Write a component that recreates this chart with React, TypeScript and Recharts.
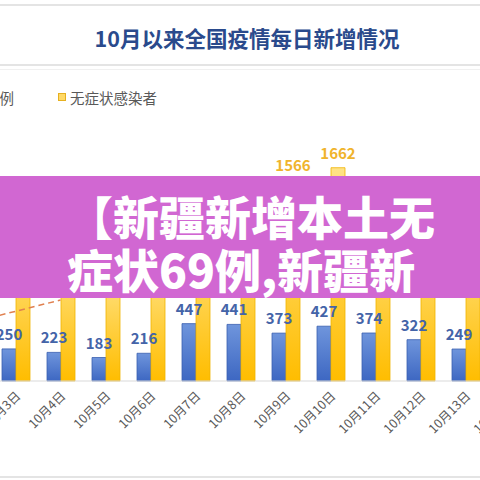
import { Bar, ComposedChart, LabelList, Line, XAxis, YAxis } from 'recharts'

const days = ['10月2日', '10月3日', '10月4日', '10月5日', '10月6日', '10月7日', '10月8日', '10月9日', '10月10日', '10月11日', '10月12日', '10月13日', '10月14日']
// 本土确诊病例
const localCases = [null, 250, 223, 183, 216, 447, 441, 373, 427, 374, 322, 249, null]
// 无症状感染者 (most hidden behind the banner, estimated)
const asymptomatic = [null, 1100, 980, 860, 900, 1150, 1300, 1566, 1662, 1300, 1200, 1150, null]
// dashed trend line, only visible at the far left
const trend = [456, 543, 631, null, null, null, null, null, null, null, null, null, null]

const font = '"Noto Sans CJK SC", "Noto Sans", sans-serif'

function DayTick({ x, y, payload }: any) {
  return (
    <g transform={`translate(${x + 3},${y + 5}) rotate(-45)`}>
      <text textAnchor="end" fontSize={12.5} fill="#595959" fontFamily={font} dy={4}>
        {payload.value}
      </text>
    </g>
  )
}

export default function App() {
  const data = days.map((d, i) => ({
    day: d,
    local: localCases[i],
    asym: asymptomatic[i],
    trend: trend[i],
  }))

  return (
    <div style={{ position: 'fixed', left: 0, top: 0, width: 480, height: 480, overflow: 'hidden', background: '#fff', fontFamily: font }}>
      <div style={{ position: 'absolute', left: 0, top: 4, width: 480, height: 2, background: '#e4e4e4' }} />
      <div style={{ position: 'absolute', left: 0, top: 0, width: 480, height: 76, textAlign: 'center', lineHeight: '76px', fontSize: 21.5, fontWeight: 700, color: '#2a4a8c', paddingLeft: 14, boxSizing: 'border-box' }}>
        10月以来全国疫情每日新增情况
      </div>
      <div style={{ position: 'absolute', left: 0, top: 64, width: 480, height: 2, background: '#e4e4e4' }} />
      <div style={{ position: 'absolute', left: 0, top: 69, width: 480, height: 1, background: '#f0f0f0' }} />

      {/* legend */}
      <div style={{ position: 'absolute', left: -85, top: 86, height: 22, display: 'flex', alignItems: 'center', fontSize: 14.5, color: '#595959', whiteSpace: 'nowrap' }}>
        <span style={{ width: 6, height: 6, background: '#4a74c8', border: '1px solid #2f57a8', marginRight: 4 }} />
        <span>本土确诊病例</span>
        <span style={{ width: 6, height: 6, background: '#ffd966', border: '1px solid #e6b020', marginLeft: 44, marginRight: 4 }} />
        <span>无症状感染者</span>
      </div>

      <div style={{ position: 'absolute', left: -52.5, top: 0 }}>
        <ComposedChart width={585} height={480} data={data} margin={{ top: 150, right: 0, bottom: 0, left: 0 }} barGap={0} barSize={14}>
          <defs>
            <linearGradient id="blueFill" x1="0" y1="0" x2="0" y2="1">
              <stop offset="0%" stopColor="#6f95dc" />
              <stop offset="100%" stopColor="#3d67c2" />
            </linearGradient>
            <linearGradient id="yellowFill" x1="0" y1="0" x2="0" y2="1">
              <stop offset="0%" stopColor="#ffe387" />
              <stop offset="100%" stopColor="#ffbd00" />
            </linearGradient>
          </defs>
          <XAxis dataKey="day" height={99} interval={0} tick={<DayTick />} tickLine={false} axisLine={{ stroke: '#d9d9d9' }} />
          <YAxis hide domain={[0, 1800]} />
          <Bar dataKey="local" fill="url(#blueFill)" stroke="#3a5fb0" strokeWidth={0.8} isAnimationActive={false}>
            <LabelList dataKey="local" position="top" offset={9} fill="#4464a8" fontSize={15} fontWeight={700} fontFamily={font} />
          </Bar>
          <Bar dataKey="asym" fill="url(#yellowFill)" stroke="#f0b400" strokeWidth={0.8} isAnimationActive={false}>
            <LabelList dataKey="asym" position="top" offset={9} fill="#f0b42c" fontSize={15} fontWeight={700} fontFamily={font} />
          </Bar>
          <Line dataKey="trend" stroke="#e0804f" strokeWidth={1.5} strokeDasharray="6 4" dot={false} connectNulls={false} isAnimationActive={false} />
        </ComposedChart>
      </div>

      {/* overlay banner */}
      <div style={{ position: 'absolute', left: 0, top: 176, width: 480, height: 122, background: '#d167d2' }}>
        <div style={{ position: 'absolute', left: 67, top: 13, lineHeight: '53px', fontSize: 46, fontWeight: 900, color: '#fff', whiteSpace: 'nowrap' }}>
          【新疆新增本土无
        </div>
        <div style={{ position: 'absolute', left: 67, top: 66, lineHeight: '53px', fontSize: 46, fontWeight: 900, color: '#fff', whiteSpace: 'nowrap' }}>
          症状69例,新疆新
        </div>
      </div>

      <div style={{ position: 'absolute', left: 0, top: 476, width: 480, height: 2, background: '#e4e4e4' }} />
    </div>
  )
}
